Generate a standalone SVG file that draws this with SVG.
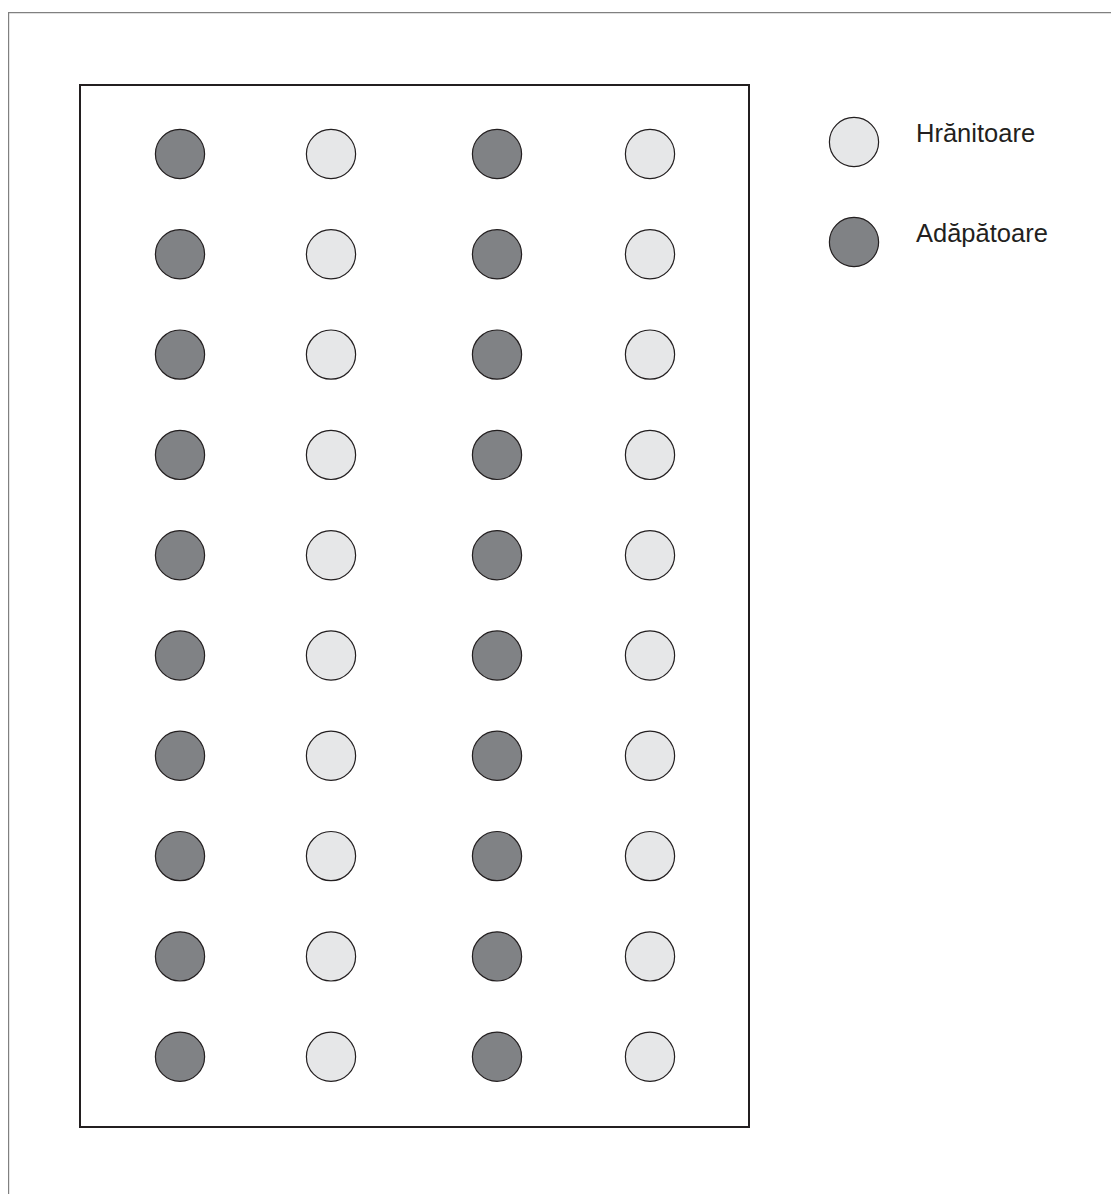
<svg xmlns="http://www.w3.org/2000/svg" width="1111" height="1194" viewBox="0 0 1111 1194">
<style>
.frame{fill:none;stroke:#808080;stroke-width:1.2}
.box{fill:#fff;stroke:#231f20;stroke-width:2}
.d{fill:#808285;stroke:#231f20;stroke-width:1.2}
.l{fill:#e6e7e8;stroke:#231f20;stroke-width:1.2}
.t{font-family:"Liberation Sans",Arial,sans-serif;font-size:25.5px;fill:#231f20}
</style>
<rect width="1111" height="1194" fill="#fff"/>
<path class="frame" d="M8.6,1194 V12.6 H1111"/>
<g id="field">
<rect class="box" x="80" y="85" width="669" height="1042"/>
</g>
<g id="feeders">
<circle class="d" cx="180" cy="154" r="24.6"/><circle class="l" cx="331" cy="154" r="24.6"/><circle class="d" cx="497" cy="154" r="24.6"/><circle class="l" cx="650" cy="154" r="24.6"/>
<circle class="d" cx="180" cy="254.3" r="24.6"/><circle class="l" cx="331" cy="254.3" r="24.6"/><circle class="d" cx="497" cy="254.3" r="24.6"/><circle class="l" cx="650" cy="254.3" r="24.6"/>
<circle class="d" cx="180" cy="354.6" r="24.6"/><circle class="l" cx="331" cy="354.6" r="24.6"/><circle class="d" cx="497" cy="354.6" r="24.6"/><circle class="l" cx="650" cy="354.6" r="24.6"/>
<circle class="d" cx="180" cy="454.9" r="24.6"/><circle class="l" cx="331" cy="454.9" r="24.6"/><circle class="d" cx="497" cy="454.9" r="24.6"/><circle class="l" cx="650" cy="454.9" r="24.6"/>
<circle class="d" cx="180" cy="555.2" r="24.6"/><circle class="l" cx="331" cy="555.2" r="24.6"/><circle class="d" cx="497" cy="555.2" r="24.6"/><circle class="l" cx="650" cy="555.2" r="24.6"/>
<circle class="d" cx="180" cy="655.5" r="24.6"/><circle class="l" cx="331" cy="655.5" r="24.6"/><circle class="d" cx="497" cy="655.5" r="24.6"/><circle class="l" cx="650" cy="655.5" r="24.6"/>
<circle class="d" cx="180" cy="755.8" r="24.6"/><circle class="l" cx="331" cy="755.8" r="24.6"/><circle class="d" cx="497" cy="755.8" r="24.6"/><circle class="l" cx="650" cy="755.8" r="24.6"/>
<circle class="d" cx="180" cy="856.1" r="24.6"/><circle class="l" cx="331" cy="856.1" r="24.6"/><circle class="d" cx="497" cy="856.1" r="24.6"/><circle class="l" cx="650" cy="856.1" r="24.6"/>
<circle class="d" cx="180" cy="956.4" r="24.6"/><circle class="l" cx="331" cy="956.4" r="24.6"/><circle class="d" cx="497" cy="956.4" r="24.6"/><circle class="l" cx="650" cy="956.4" r="24.6"/>
<circle class="d" cx="180" cy="1056.7" r="24.6"/><circle class="l" cx="331" cy="1056.7" r="24.6"/><circle class="d" cx="497" cy="1056.7" r="24.6"/><circle class="l" cx="650" cy="1056.7" r="24.6"/>
</g>
<g id="legend-feeder">
<circle class="l" cx="854" cy="142" r="24.6"/>
<text class="t" x="916" y="142">Hrănitoare</text>
</g>
<g id="legend-waterer">
<circle class="d" cx="854" cy="242" r="24.6"/>
<text class="t" x="916" y="242">Adăpătoare</text>
</g>
<g id="connectors"></g>
</svg>
